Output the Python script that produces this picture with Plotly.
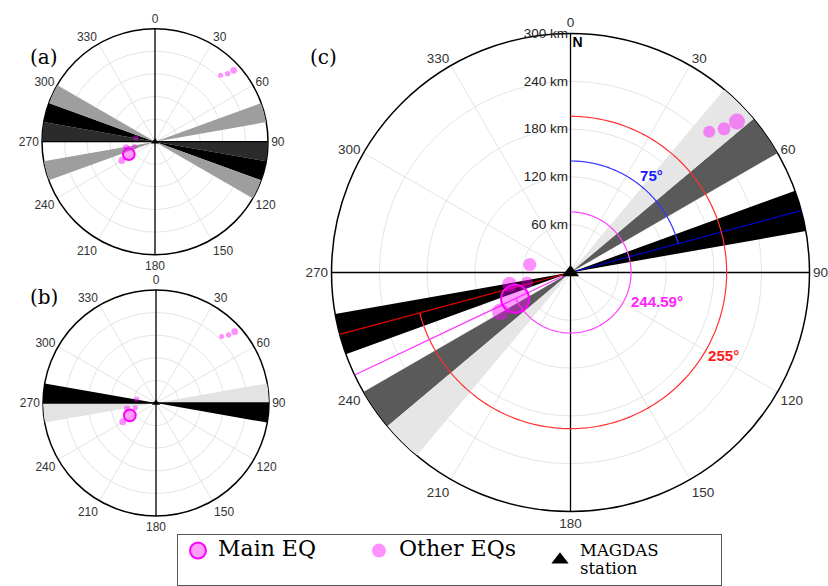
import numpy as np
import plotly.graph_objects as go

# ---------------- data ----------------
# Epicentres seen from the MAGDAS station: azimuth (deg, clockwise from N) and distance (km)
main_az = [244.59]
main_km = [77]
other_az = [44.6, 46.9, 47.8, 281.0, 259.0, 257.0, 240.5]
other_km = [248, 264, 282, 52, 78, 56, 101]
station_az = [0]
station_km = [0]

# Shaded azimuth sectors (start, end in degrees) for each panel
a_start = [90, 270, 100, 280, 110, 290, 70, 250]
a_end = [100, 280, 110, 290, 120, 300, 80, 260]
b_start = [270, 90, 260, 80]
b_end = [280, 100, 270, 90]
c_start = [70, 250, 50, 230, 40, 220]
c_end = [80, 260, 60, 240, 50, 230]

# Reference directions in panel (c)
dir_blue = 75
dir_red = 255
dir_main = 244.59

r_max = 300
radial_ticks = [60, 120, 180, 240, 300]
angle_ticks = list(range(0, 360, 30))

# ---------------- styles ----------------
a_colors = ["#2b2b2b", "#2b2b2b", "#000000", "#000000", "#9e9e9e", "#9e9e9e", "#9e9e9e", "#9e9e9e"]
b_colors = ["#000000", "#000000", "#e3e3e3", "#e3e3e3"]
c_colors = ["#000000", "#000000", "#5a5a5a", "#5a5a5a", "#e6e6e6", "#e6e6e6"]
other_px = [12, 13, 16, 13, 15, 12, 17]
OTHER_FILL = "rgba(255,0,255,0.62)"
MAIN_FILL = "rgba(255,0,255,0.38)"
MAGENTA = "#ff00ff"

fig = go.Figure()


def add_panel(polar, starts, ends, colors):
    fig.add_trace(go.Barpolar(
        r=[r_max] * len(starts),
        theta=[(s + e) / 2 for s, e in zip(starts, ends)],
        width=[e - s for s, e in zip(starts, ends)],
        marker=dict(color=colors, line=dict(width=0)),
        subplot=polar, showlegend=False, hoverinfo="skip"))
    # N-S and E-W axis lines
    for t0, t1 in [(0, 180), (90, 270)]:
        fig.add_trace(go.Scatterpolar(
            r=[r_max, 0, r_max], theta=[t0, t0, t1], mode="lines",
            line=dict(color="black", width=1.3),
            subplot=polar, showlegend=False, hoverinfo="skip"))


def add_quakes(polar, scale, legend):
    fig.add_trace(go.Scatterpolar(
        r=main_km, theta=main_az, mode="markers",
        marker=dict(size=28 * scale, color=MAIN_FILL, line=dict(width=2, color=MAGENTA)),
        name="<span style='font-size:22px'>Main EQ</span>",
        legendgroup="main", showlegend=legend, subplot=polar))
    fig.add_trace(go.Scatterpolar(
        r=other_km, theta=other_az, mode="markers",
        marker=dict(size=[s * scale for s in other_px], color=OTHER_FILL, line=dict(width=0)),
        name="<span style='font-size:22px'>Other EQs</span>",
        legendgroup="other", showlegend=legend, subplot=polar))
    fig.add_trace(go.Scatterpolar(
        r=station_km, theta=station_az, mode="markers",
        marker=dict(size=15 if scale == 1 else 7, color="black", symbol="triangle-up"),
        name="<span style='font-size:16.5px'>MAGDAS<br>station</span>",
        legendgroup="station", showlegend=legend, subplot=polar))


add_panel("polar", a_start, a_end, a_colors)
add_panel("polar2", b_start, b_end, b_colors)
add_panel("polar3", c_start, c_end, c_colors)

# Panel (c): direction lines, angle arcs and their labels
for ang, col_line, col_arc, r_arc in [(dir_blue, "#0000cc", "#3333ff", 140),
                                      (dir_red, "#e00000", "#ff3030", 196),
                                      (dir_main, "#ff33ff", "#ff44ff", 76)]:
    fig.add_trace(go.Scatterpolar(
        r=[0, r_max], theta=[ang, ang], mode="lines",
        line=dict(color=col_line, width=1.2),
        subplot="polar3", showlegend=False, hoverinfo="skip"))
    arc_theta = np.linspace(0, ang, 200)
    fig.add_trace(go.Scatterpolar(
        r=[r_arc] * len(arc_theta), theta=arc_theta, mode="lines",
        line=dict(color=col_arc, width=1.2),
        subplot="polar3", showlegend=False, hoverinfo="skip"))

fig.add_trace(go.Scatterpolar(
    r=[157, 115, 220], theta=[40.3, 109.3, 119.1], mode="text",
    text=[f"{dir_blue}°", f"{dir_main}°", f"{dir_red}°"],
    textfont=dict(family="Liberation Sans", size=15, color=["#1a1aff", "#ff22ff", "#ff1a1a"],
                  weight="bold"),
    subplot="polar3", showlegend=False, hoverinfo="skip"))
fig.add_trace(go.Scatterpolar(
    r=[287], theta=[1.8], mode="text", text=["<b>N</b>"],
    textfont=dict(family="Liberation Sans", size=14, color="black"),
    subplot="polar3", showlegend=False, hoverinfo="skip"))

add_quakes("polar", 0.42, False)
add_quakes("polar2", 0.42, False)
add_quakes("polar3", 1.0, True)

W, H = 828, 586


def dom(x0, x1, ytop, ybot):
    return dict(x=[x0 / W, x1 / W], y=[1 - ybot / H, 1 - ytop / H])


def polar_layout(domain, show_radial, tick_size):
    return dict(
        domain=domain,
        bgcolor="white",
        angularaxis=dict(rotation=90, direction="clockwise", ticks="",
                         tickmode="array", tickvals=angle_ticks,
                         ticktext=[str(v) for v in angle_ticks],
                         showline=True, linecolor="black", linewidth=1.5,
                         gridcolor="#e4e4e4", gridwidth=1, layer="below traces",
                         tickfont=dict(family="Liberation Sans", size=tick_size, color="#333333")),
        radialaxis=dict(range=[0, r_max], tickvals=radial_ticks,
                        ticktext=[f"{v} km" for v in radial_ticks],
                        showticklabels=show_radial, ticks="", showline=False,
                        angle=90, side="counterclockwise", tickangle=90,
                        gridcolor="#e4e4e4", gridwidth=1, layer="below traces",
                        tickfont=dict(family="Liberation Sans", size=13.5, color="#222222")),
    )


fig.update_layout(
    width=W, height=H,
    margin=dict(l=0, r=0, t=0, b=0, autoexpand=False),
    paper_bgcolor="white",
    polar=polar_layout(dom(42, 268, 28.7, 254.7), False, 12),
    polar2=polar_layout(dom(43, 269, 290, 516), False, 12),
    polar3=polar_layout(dom(331.5, 809.5, 33.5, 511.5), True, 13.5),
    legend=dict(orientation="h", x=177 / W, xanchor="left", y=0, yanchor="bottom",
                bgcolor="white", bordercolor="#555555", borderwidth=1,
                font=dict(family="DejaVu Serif", size=14, color="black"),
                entrywidth=136, entrywidthmode="pixels",
                traceorder="normal", itemsizing="trace"),
    showlegend=True,
)

for txt, x, y in [("(a)", 28, 43), ("(b)", 28, 297), ("(c)", 323, 43)]:
    fig.add_annotation(text=txt, x=x / W, y=1 - y / H, xref="paper", yref="paper",
                       showarrow=False, font=dict(family="DejaVu Serif", size=20, color="black"))

fig.write_html("out.html")
